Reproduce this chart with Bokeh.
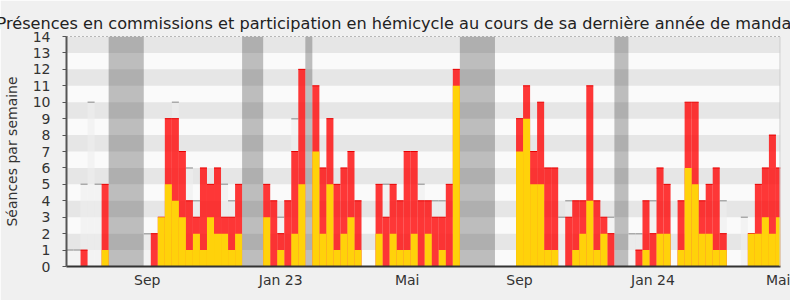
import numpy as np
from bokeh.plotting import figure
from bokeh.models import Range1d, FixedTicker, Span
from bokeh.embed import file_html
from bokeh.resources import INLINE

# weekly values (week index 0..101)
total = [0, 0, 1, 0, 0, 5, 0, 0, 0, 0,
         0, 0, 2, 3, 9, 9, 7, 4, 3, 6,
         5, 6, 3, 3, 5, 0, 0, 0, 5, 4,
         2, 4, 7, 12, 0, 11, 6, 9, 5, 6,
         7, 4, 0, 0, 5, 3, 5, 4, 7, 7,
         4, 4, 3, 3, 5, 12, 0, 0, 0, 0,
         0, 0, 0, 0, 9, 11, 7, 10, 6, 6,
         0, 3, 4, 4, 11, 4, 3, 2, 0, 0,
         0, 1, 4, 2, 6, 5, 0, 4, 10, 10,
         4, 5, 6, 2, 0, 0, 0, 2, 5, 6,
         8, 6]
hemicycle = [0, 0, 0, 0, 0, 1, 0, 0, 0, 0,
             0, 0, 0, 3, 5, 4, 3, 1, 2, 1,
             3, 2, 2, 1, 2, 0, 0, 0, 3, 0,
             1, 0, 2, 5, 0, 7, 2, 5, 1, 2,
             3, 1, 0, 0, 2, 0, 2, 1, 1, 2,
             0, 2, 0, 1, 0, 11, 0, 0, 0, 0,
             0, 0, 0, 0, 7, 9, 5, 5, 1, 1,
             0, 0, 1, 2, 4, 1, 2, 0, 0, 0,
             0, 0, 1, 0, 2, 2, 0, 1, 6, 5,
             2, 2, 1, 1, 0, 0, 0, 2, 2, 3,
             2, 3]
median_others = [1, 1, 5, 10, 5, 0, 0, 0, 0, 0,
                 0, 2, 0, 0, 0, 10, 0, 6, 4, 0,
                 0, 0, 5, 4, 0, 0, 0, 0, 0, 0,
                 3, 0, 9, 0, 0, 0, 0, 0, 0, 0,
                 0, 0, 0, 0, 0, 5, 0, 0, 0, 0,
                 5, 0, 4, 4, 0, 0, 0, 0, 0, 0,
                 0, 0, 0, 0, 0, 0, 0, 0, 0, 0,
                 3, 4, 0, 0, 0, 0, 0, 3, 0, 0,
                 2, 2, 0, 4, 0, 0, 0, 0, 0, 0,
                 0, 0, 0, 4, 0, 0, 3, 0, 0, 0,
                 0, 0]
vacation_start = [6, 25, 34, 56, 78]
vacation_end = [11, 28, 35, 61, 80]
tick_weeks = [11, 30, 48, 64, 83, 101]
tick_labels = ["Sep", "Jan 23", "Mai", "Sep", "Jan 24", "Mai"]

weeks = np.arange(len(total))
xc = weeks + 0.5

FONT = "DejaVu Sans"

p = figure(width=790, height=300, output_backend="svg", toolbar_location=None,
           x_range=Range1d(0, 101.65), y_range=Range1d(0, 14),
           min_border_left=64, min_border_right=10, min_border_top=36, min_border_bottom=34)

p.title.text = "Présences en commissions et participation en hémicycle au cours de sa dernière année de mandat"
p.title.text_font = FONT
p.title.text_font_size = "16.15px"
p.title.text_font_style = "normal"
p.title.text_color = "#222222"
p.title.align = "left"
p.title.offset = -70
p.title.standoff = 8

p.background_fill_color = "#fafafa"
p.border_fill_color = "#f0f0f0"
p.outline_line_color = None

p.xgrid.visible = False
p.ygrid.grid_line_color = None
p.ygrid.band_fill_color = "#e6e6e6"
p.ygrid.band_fill_alpha = 1.0

# vacations
p.quad(left=vacation_start, right=vacation_end, bottom=0, top=14,
       fill_color="#323232", fill_alpha=0.3, line_color=None)

# other deputies reference bars
p.vbar(x=xc, top=median_others, width=1, fill_color="#eeeeee", fill_alpha=0.6, line_color=None)
p.segment(x0=weeks, x1=weeks + 1, y0=median_others, y1=median_others,
          line_color="#aaaaaa", line_width=1.5,
          line_alpha=[1 if v > 0 else 0 for v in median_others])

# commissions (total)
p.vbar(x=xc, top=total, width=1, fill_color="#ff0000", fill_alpha=0.78, line_color=None)
p.segment(x0=weeks, x1=weeks + 1, y0=total, y1=total, line_color="#e80000", line_width=1,
          line_alpha=[1 if v > 0 else 0 for v in total])
# hemicycle
p.vbar(x=xc, top=hemicycle, width=1, fill_color="#ffd20a", line_color=None)

p.add_layout(Span(location=14, dimension="width", line_color="#000000", line_dash="1 3", line_width=1))
p.add_layout(Span(location=101.65, dimension="height", line_color="#cccccc", line_width=2))

# axes
p.yaxis.ticker = FixedTicker(ticks=list(range(15)))
p.yaxis.axis_label = "Séances par semaine"
p.yaxis.axis_label_text_font = FONT
p.yaxis.axis_label_text_font_size = "14px"
p.yaxis.axis_label_text_font_style = "normal"
p.yaxis.axis_label_text_color = "#333333"
p.yaxis.axis_label_standoff = 10
p.yaxis.major_label_text_font = FONT
p.yaxis.major_label_text_font_size = "14px"
p.yaxis.major_label_text_color = "#333333"
p.yaxis.major_label_standoff = 12
p.yaxis.major_tick_out = 4
p.yaxis.major_tick_in = 0
p.yaxis.minor_tick_line_color = None
p.yaxis.axis_line_color = "#555555"
p.yaxis.axis_line_width = 2
p.yaxis.major_tick_line_color = "#555555"

p.xaxis.ticker = FixedTicker(ticks=[w + 0.5 for w in tick_weeks])
p.xaxis.major_label_overrides = {w + 0.5: lbl for w, lbl in zip(tick_weeks, tick_labels)}
p.xaxis.major_label_text_font = FONT
p.xaxis.major_label_text_font_size = "14px"
p.xaxis.major_label_text_color = "#333333"
p.xaxis.major_label_standoff = 5
p.xaxis.major_tick_out = 0
p.xaxis.major_tick_in = 0
p.xaxis.minor_tick_line_color = None
p.xaxis.axis_line_color = "#333333"
p.xaxis.axis_line_width = 2

open("out.html", "w").write(file_html(p, INLINE))
